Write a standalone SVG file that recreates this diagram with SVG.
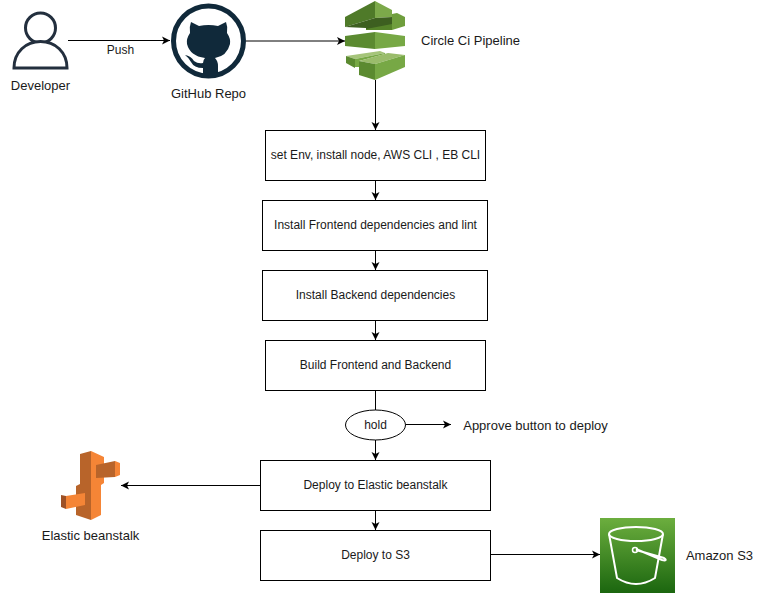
<svg xmlns="http://www.w3.org/2000/svg" width="765" height="593" viewBox="0 0 765 593">
<style>
text{font-family:"Liberation Sans",Arial,sans-serif;font-size:12px;fill:#1a1a1a;text-anchor:middle}
text.l{font-size:13px}
.b{fill:#fff;stroke:#000;stroke-width:1}
.c{fill:none;stroke:#000;stroke-width:1;marker-end:url(#a)}
.w{fill:none;stroke:#fff;stroke-width:2}
</style>
<defs>
<marker id="a" markerUnits="userSpaceOnUse" markerWidth="9" markerHeight="9" refX="8" refY="4.500" orient="auto"><path d="M0 .5L8 4.500L0 8.500L2 4.500Z" fill="#000"/></marker>
<linearGradient id="s3g" x1="0" y1="1" x2="0" y2="0"><stop offset="0" stop-color="#1b660f"/><stop offset="1" stop-color="#6cae3e"/></linearGradient>
</defs>
<rect width="765" height="593" fill="#fff"/>
<g id="connectors">
<path class="c" d="M68 40.500H170"/>
<path class="c" d="M246 41H345"/>
<path class="c" d="M375.500 80V130"/>
<path class="c" d="M375.500 180V200"/>
<path class="c" d="M375.500 250V270"/>
<path class="c" d="M375.500 320V340"/>
<path d="M375.500 390V410" fill="none" stroke="#000"/>
<path class="c" d="M375.500 440V460"/>
<path class="c" d="M406 424.500H451"/>
<path class="c" d="M260 485.500H121"/>
<path class="c" d="M375.500 510V530"/>
<path class="c" d="M491 554.500H600"/>
<text x="120.500" y="54">Push</text>
</g>
<g id="developer">
<circle cx="40.500" cy="28" r="15" fill="#fff" stroke="#232f3e" stroke-width="3"/>
<path d="M14 68C14 52 26 41.500 40.500 41.500S67 52 67 68Z" fill="#fff" stroke="#232f3e" stroke-width="3"/>
<text class="l" x="40.500" y="90">Developer</text>
</g>
<g id="github">
<circle cx="208.500" cy="41" r="35" fill="#fff" stroke="#10293a" stroke-width="5"/>
<path d="M191 22L199 26Q208.500 24 218 26L226 22Q228 27 227 33Q231 39 230 44Q227 56 215 58Q218 61 218 66V75Q210 77 203 75V68Q194 68 191 62Q188 57 185 55Q191 56 194 61Q198 64 203 63Q203 60 205 58Q190 56 187 44Q186 39 190 33Q189 27 191 22Z" fill="#10293a"/>
<text class="l" x="208.500" y="98">GitHub Repo</text>
</g>
<g id="circleci">
<path d="M345 17L375 1V18L345 27Z" fill="#4f7a29"/><path d="M375 1L392 10V17L375 18Z" fill="#7ca94a"/>
<path d="M345 27L375 18L392 17V30H366V28Z" fill="#3d5f20"/>
<path d="M392 14L397 13L405 17V26L392 30Z" fill="#6f9e3d"/>
<path d="M366 29L392 24V30H366Z" fill="#558329"/>
<path d="M345 36L375 32V49L345 46Z" fill="#5b8a30"/><path d="M375 32L405 36V46L375 49Z" fill="#77a845"/>
<path d="M346 56L380 51L385 53L355 59Z" fill="#a5c47a"/><path d="M346 56L355 59V68L346 63Z" fill="#5b8a30"/><path d="M355 59L385 53V54L359 61V67H355Z" fill="#77a845"/>
<path d="M359 61L388 53L405 55L375 64Z" fill="#9abc6b"/>
<path d="M359 61L375 64V80L359 75Z" fill="#5b8a30"/><path d="M375 64L405 55V67L375 80Z" fill="#77a845"/>
<text class="l" x="470.500" y="45">Circle Ci Pipeline</text>
</g>
<g id="step1"><rect class="b" x="265.500" y="130.500" width="220" height="50"/><text x="375.500" y="159">set Env, install node, AWS CLI , EB CLI</text></g>
<g id="step2"><rect class="b" x="262.500" y="200.500" width="225" height="50"/><text x="375.500" y="229">Install Frontend dependencies and lint</text></g>
<g id="step3"><rect class="b" x="262.500" y="270.500" width="225" height="50"/><text x="375.500" y="299">Install Backend dependencies</text></g>
<g id="step4"><rect class="b" x="265.500" y="340.500" width="220" height="50"/><text x="375.500" y="369">Build Frontend and Backend</text></g>
<g id="hold"><ellipse cx="375.500" cy="425" rx="30" ry="15" fill="#fff" stroke="#000"/><text x="375.500" y="429">hold</text></g>
<g id="approve"><text class="l" x="535.500" y="430">Approve button to deploy</text></g>
<g id="deploy-eb"><rect class="b" x="260.500" y="460.500" width="230" height="50"/><text x="375.500" y="489">Deploy to Elastic beanstalk</text></g>
<g id="deploy-s3"><rect class="b" x="260.500" y="530.500" width="230" height="50"/><text x="375.500" y="559">Deploy to S3</text></g>
<g id="beanstalk">
<path d="M80 454L91 451V520L76 515V486L80 484Z" fill="#b8642a"/>
<path d="M91 451L104 457V483L101 485V515L91 520Z" fill="#f58536"/>
<path d="M96 465L115 461V477L96 478Z" fill="#b8642a"/><path d="M115 461L120 463V475L115 477Z" fill="#f58536"/>
<path d="M66 496L85 493V505L66 509Z" fill="#f58536"/><path d="M61 495L66 496V509L61 507Z" fill="#9d5025"/>
<text class="l" x="90.500" y="540">Elastic beanstalk</text>
</g>
<g id="s3">
<rect x="600" y="518" width="75" height="75" fill="url(#s3g)"/>
<ellipse class="w" cx="636" cy="534" rx="27" ry="7"/>
<path class="w" d="M609 534L617 578Q636 590 655 578L663 534"/>
<path class="w" d="M636 550L664 558C667 560 666 561 662 560L636 549"/>
<circle cx="635" cy="550" r="2.500" fill="none" stroke="#fff" stroke-width="1.500"/>
<text class="l" x="719.500" y="560">Amazon S3</text>
</g>
</svg>
